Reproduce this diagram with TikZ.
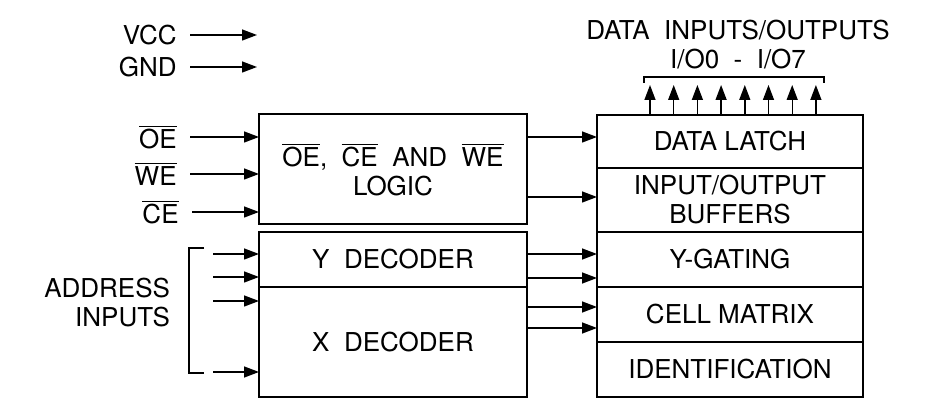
\documentclass[tikz,border=0pt]{standalone}
\usepackage{fontspec}
\setmainfont{TeX Gyre Heros}
\usetikzlibrary{arrows.meta, positioning}

\begin{document}
\begin{tikzpicture}[x=0.5pt, y=-0.5pt, font=\fontsize{13}{14.5}\selectfont,
  lblk/.style = {draw, line width=1.1pt, minimum width=134pt, minimum height=#1, inner sep=0pt, outer sep=0pt, align=center},
  rblk/.style = {draw, line width=1.1pt, minimum width=133pt, minimum height=#1, inner sep=0pt, outer sep=0pt, align=center},
  lbl/.style = {anchor=east, inner xsep=6.5pt, inner ysep=0pt},
  arr/.style = {-{Triangle[length=7.5pt, width=5.5pt]}, line width=0.7pt}]
\useasboundingbox (0,0) rectangle (928,416);

% left blocks
\node[lblk=55pt, text depth=-4pt] (logic) at (393,169) {$\overline{\mbox{OE}}$,\ \ $\overline{\mbox{CE}}$\ \ AND\ \ $\overline{\mbox{WE}}$\\LOGIC};
\node[lblk=27.5pt] (ydec) at (393,259.5) {Y\ \ DECODER};
\node[lblk=55pt, below=0pt of ydec] (xdec) {X\ \ DECODER};

% right blocks
\node[rblk=26.5pt] (latch) at (730,141.5) {DATA\ LATCH};
\node[rblk=32pt, below=0pt of latch] (iobuf) {INPUT/OUTPUT\\BUFFERS};
\node[rblk=27.5pt, below=0pt of iobuf] (ygate) {Y-GATING};
\node[rblk=27.5pt, below=0pt of ygate] (cell) {CELL\ MATRIX};
\node[rblk=27.5pt, below=0pt of cell] (ident) {IDENTIFICATION};

% power
\node[lbl] (vcc) at (190,35) {VCC};
\node[lbl] (gnd) at (190,67) {GND};
\coordinate (vccend) at (257,35);
\coordinate (gndend) at (257,67);
\draw[arr] (vcc) -- (vccend);
\draw[arr] (gnd) -- (gndend);

% control inputs
\node[lbl] (oe) at (190,137) {$\overline{\mbox{OE}}$};
\node[lbl] (we) at (190,174) {$\overline{\mbox{WE}}$};
\node[lbl] (ce) at (192,212) {$\overline{\mbox{CE}}$};
\draw[arr] (oe) -- (oe -| logic.west);
\draw[arr] (we) -- (we -| logic.west);
\draw[arr] (ce) -- (ce -| logic.west);

% address inputs
\node[align=right, anchor=east] (addr) at (177,303) {ADDRESS\\INPUTS};
\draw[line width=0.6pt] (204,248) -| (189,373) -- (204,373);
\coordinate (a1) at (213,254);
\coordinate (a2) at (213,277);
\coordinate (a3) at (213,301);
\coordinate (a4) at (213,372);
\draw[arr] (a1) -- (a1 -| ydec.west);
\draw[arr] (a2) -- (a2 -| ydec.west);
\draw[arr] (a3) -- (a3 -| xdec.west);
\draw[arr] (a4) -- (a4 -| xdec.west);

% internal
\draw[arr] (logic.east |- 0,137) -- (latch.west |- 0,137);
\draw[arr] (logic.east |- 0,197) -- (iobuf.west |- 0,197);
\draw[arr] (ydec.east |- 0,254) -- (ygate.west |- 0,254);
\draw[arr] (ydec.east |- 0,278) -- (ygate.west |- 0,278);
\draw[arr] (xdec.east |- 0,307) -- (cell.west |- 0,307);
\draw[arr] (xdec.east |- 0,328) -- (cell.west |- 0,328);

% data i/o
\node[align=center] (title) at (738,45) {DATA\ \ INPUTS/OUTPUTS\\I/O0\ \ -\ \ I/O7};
\draw[line width=0.6pt] (644,83) |- (824,77) -- (824,83);
\foreach \i in {0,...,7} {
  \coordinate (io\i) at ({650+23.7*\i},85);
  \draw[arr] (io\i |- latch.north) -- (io\i);
}
\end{tikzpicture}
\end{document}
